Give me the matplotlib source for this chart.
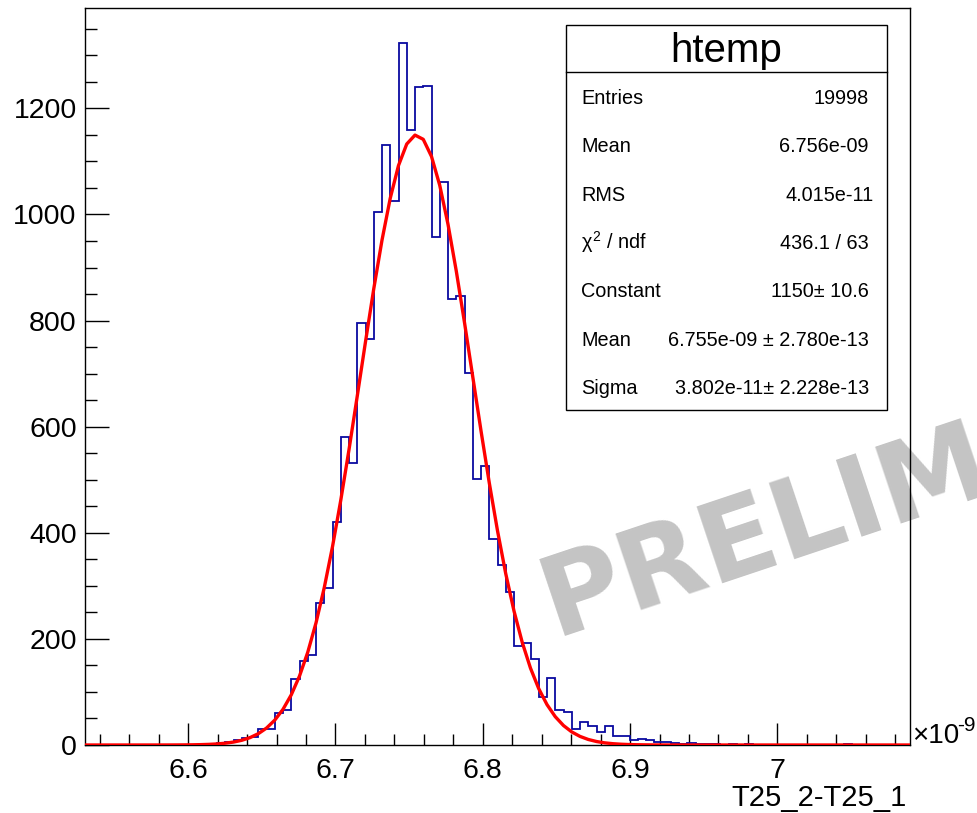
import numpy as np
import matplotlib
matplotlib.use("Agg")
import matplotlib.pyplot as plt
from matplotlib.ticker import MultipleLocator
from matplotlib.patches import Rectangle
from matplotlib.lines import Line2D

# ---- data -------------------------------------------------------------
x_lo, x_hi, n_bins = 6.53, 7.09, 100          # histogram range (x 1e-9)
counts = [
    0, 0, 0, 0, 0, 0, 0, 0, 0, 0,
    0, 0, 0, 0, 0, 1, 3, 5, 10, 13,
    16, 31, 31, 60, 66, 125, 159, 170, 267, 295,
    420, 581, 531, 796, 766, 1004, 1131, 1025, 1323, 1160,
    1241, 1243, 957, 1062, 841, 847, 701, 501, 526, 388,
    339, 288, 186, 193, 162, 91, 126, 66, 62, 30,
    44, 35, 25, 35, 17, 17, 9, 11, 9, 5,
    5, 4, 2, 4, 1, 1, 2, 0, 1, 0,
    1, 0, 0, 0, 0, 0, 0, 0, 0, 0,
    0, 0, 1, 0, 0, 0, 0, 0, 0, 0,
]
fit_constant = 1150.0
fit_mean = 6.755
fit_sigma = 0.03802

x_major = [6.6, 6.7, 6.8, 6.9, 7.0]
x_major_labels = ["6.6", "6.7", "6.8", "6.9", "7"]
y_major = [0, 200, 400, 600, 800, 1000, 1200]
y_major_labels = ["0", "200", "400", "600", "800", "1000", "1200"]

stats_title = "htemp"
stat_names = ["Entries", "Mean", "RMS", r"$\chi^{2}$ / ndf", "Constant", "Mean", "Sigma"]
stat_values = ["19998", "6.756e-09", "4.015e-11", "436.1 / 63",
               "1150\u00b1 10.6", "6.755e-09 \u00b1 2.780e-13", "3.802e-11\u00b1 2.228e-13"]
x_title = "T25_2-T25_1"
watermark = "PRELIMINARY"

# ---- style ------------------------------------------------------------
plt.rcParams["font.family"] = ["Liberation Sans", "DejaVu Sans"]
plt.rcParams["mathtext.fontset"] = "custom"
plt.rcParams["mathtext.rm"] = "Liberation Sans"
plt.rcParams["mathtext.it"] = "Liberation Sans"

W, H = 977, 813
fig = plt.figure(figsize=(W / 100, H / 100), dpi=100, facecolor="white")


def fx(px):
    return px / W


def fy(py):
    return 1.0 - py / H


ax = fig.add_axes([fx(85), fy(745), fx(910) - fx(85), fy(8) - fy(745)], zorder=2)
ax.set_facecolor("none")

edges = np.linspace(x_lo, x_hi, n_bins + 1)
ax.stairs(counts, edges, color="#0a0aa0", linewidth=1.3, zorder=3)

xf = np.linspace(x_lo, x_hi, 101)
yf = fit_constant * np.exp(-0.5 * ((xf - fit_mean) / fit_sigma) ** 2)
ax.plot(xf, yf, color="#ff0000", linewidth=2.4, zorder=4)

ax.set_xlim(x_lo, x_hi)
ax.set_ylim(0, 1.05 * max(counts))

ax.set_xticks(x_major)
ax.set_xticklabels(x_major_labels)
ax.set_yticks(y_major)
ax.set_yticklabels(y_major_labels)
ax.xaxis.set_minor_locator(MultipleLocator(0.02))
ax.yaxis.set_minor_locator(MultipleLocator(50))

ax.tick_params(axis="both", which="both", direction="in", top=False, right=False,
               width=1.0, color="black", labelsize=20.5)
ax.tick_params(axis="x", which="major", length=16, pad=9)
ax.tick_params(axis="x", which="minor", length=8)
ax.tick_params(axis="y", which="major", length=17.5, pad=6)
ax.tick_params(axis="y", which="minor", length=8.5)
for sp in ax.spines.values():
    sp.set_linewidth(1.0)
    sp.set_color("black")

# axis title and exponent
fig.text(fx(907), fy(806), x_title, ha="right", va="baseline", fontsize=21)
fig.text(fx(912), fy(743), "\u00d710", ha="left", va="baseline", fontsize=20)
fig.text(fx(957), fy(731), "-9", ha="left", va="baseline", fontsize=15)

# watermark behind the frame
fig.text(fx(555), fy(636), watermark, ha="left", va="baseline",
         rotation=18.5, rotation_mode="anchor", fontsize=80,
         family="DejaVu Sans", fontweight="bold", color="#c4c4c4", zorder=1)

# statistics box
bx0, bx1, by0, by1, bsep = 566, 887, 25, 410, 72.5
fig.add_artist(Rectangle((fx(bx0) + 1.5 / W, fy(by1) - 1.5 / H), fx(bx1) - fx(bx0), fy(by0) - fy(by1),
                         transform=fig.transFigure, facecolor="black", edgecolor="none", zorder=4))
fig.add_artist(Rectangle((fx(bx0), fy(by1)), fx(bx1) - fx(bx0), fy(by0) - fy(by1),
                         transform=fig.transFigure, facecolor="white", edgecolor="black",
                         linewidth=1.0, zorder=5))
fig.add_artist(Line2D([fx(bx0), fx(bx1)], [fy(bsep), fy(bsep)], transform=fig.transFigure,
                      color="black", linewidth=1.0, zorder=6))
fig.text(fx((bx0 + bx1) / 2), fy(62.5), stats_title, ha="center", va="baseline",
         fontsize=29, zorder=7)
for k, (name, val) in enumerate(zip(stat_names, stat_values)):
    base = 104 + 48.3 * k
    fig.text(fx(581), fy(base), name, ha="left", va="baseline", fontsize=14.3, zorder=7)
    xr = 874 if k == 2 else 869
    fig.text(fx(xr), fy(base), val, ha="right", va="baseline", fontsize=14.3, zorder=7)

fig.savefig("out.png", dpi=100, facecolor="white")
